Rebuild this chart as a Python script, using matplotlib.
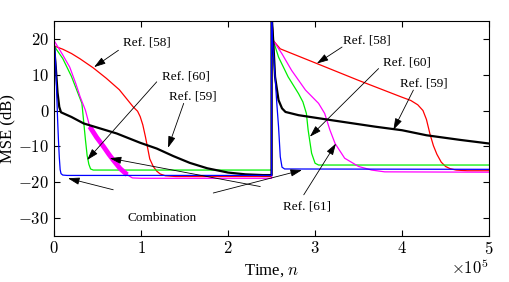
import numpy as np
import matplotlib
matplotlib.use('Agg')
import matplotlib.pyplot as plt
from matplotlib.ticker import FuncFormatter

plt.rcParams['font.family'] = ['Liberation Serif', 'DejaVu Serif']
plt.rcParams['mathtext.fontset'] = 'cm'

# time axis in units of 1e5 samples; two runs, reset at n = 2.5e5
ref58_n = [0, 0.1, 0.2, 0.3, 0.45, 0.6, 0.75, 0.91, 0.96, 0.99, 1.02, 1.05, 1.08, 1.1, 1.14, 1.18, 1.22, 1.28, 1.4, 2.5,
           2.5, 2.52, 2.6, 3.0, 3.5, 4.0, 4.1, 4.18, 4.24, 4.28, 4.32, 4.36, 4.4, 4.45, 4.5, 4.55, 4.62, 4.75, 5.0]
ref58_mse = [18, 17.1, 15.9, 14.4, 11.9, 9.0, 5.8, 1.0, -0.2, -1.7, -4.0, -7.3, -11.0, -13.5, -15.6, -16.9, -17.7, -18.2, -18.4, -18.4,
             27, 19.5, 17.2, 13.3, 8.4, 3.7, 2.8, 1.6, 0, -2.5, -6.5, -9.8, -12.2, -14.4, -15.6, -16.2, -16.6, -16.8, -16.8]

ref60_n = [0, 0.1, 0.2, 0.28, 0.32, 0.34, 0.36, 0.38, 0.4, 0.42, 0.45, 2.5,
           2.5, 2.52, 2.58, 2.69, 2.81, 2.86, 2.9, 2.92, 2.96, 3.0, 3.04, 5.0]
ref60_mse = [18, 14.5, 9.5, 4.5, 2.0, -3.0, -8.0, -12.5, -15.0, -16.3, -16.6, -16.6,
             27, 19.5, 14.9, 9.4, 4.7, 2.4, -0.8, -5.4, -11.9, -14.7, -15.2, -15.2]

ref61_n = [0, 0.05, 0.1, 0.18, 0.25, 0.3, 0.36, 0.41, 0.49, 0.57, 0.63, 0.68, 0.76, 0.84, 0.9, 1.0, 2.5,
           2.5, 2.52, 2.62, 2.73, 2.89, 3.04, 3.11, 3.17, 3.23, 3.34, 3.5, 3.65, 3.8, 5.0]
ref61_mse = [19.5, 17.5, 15.5, 12.1, 7.5, 3.8, 0.1, -4.5, -7.5, -10.1, -12.2, -13.8, -16.2, -17.9, -18.8, -18.9, -18.9,
             27, 19.5, 15.8, 11.2, 5.7, 2.0, -0.8, -5.4, -9.2, -13.3, -15.6, -16.6, -17.1, -17.2]

ref59_n = [0, 0.02, 0.04, 0.06, 0.08, 0.2, 0.34, 0.53, 0.72, 0.99, 1.18, 1.37, 1.56, 1.76, 2.0, 2.2, 2.4, 2.5,
           2.5, 2.52, 2.54, 2.58, 2.62, 2.66, 2.81, 3.19, 3.69, 4.0, 4.28, 4.67, 5.0]
ref59_mse = [18, 12, 5, 1, -0.5, -1.8, -3.6, -5.0, -6.4, -9.0, -10.6, -12.7, -14.6, -16.1, -17.3, -17.8, -18.0, -18.0,
             27, 19, 9.4, 2.9, 0.6, -0.4, -1.3, -2.7, -4.5, -5.5, -6.9, -8.2, -9.2]

comb_n = [0, 0.01, 0.02, 0.03, 0.04, 0.05, 0.06, 0.07, 0.08, 0.1, 0.15, 2.5,
          2.5, 2.51, 2.54, 2.56, 2.58, 2.6, 2.62, 2.65, 5.0]
comb_mse = [19, 17, 12, 5, -2, -8, -13, -16.5, -17.6, -18.0, -18.1, -18.1,
            27, 19.5, 9.4, 2.0, -4.5, -12.9, -15.8, -16.3, -16.4]

fig = plt.figure(figsize=(5.1, 2.82), dpi=100)
ax = fig.add_axes([0.106, 0.163, 0.853, 0.763])

ax.plot(ref58_n, ref58_mse, color='#ff0000', lw=0.9)
ax.plot(ref60_n, ref60_mse, color='#00ee00', lw=0.9)
ax.plot(ref61_n, ref61_mse, color='#ff00ff', lw=0.9)
# noisy transient of Ref. [61] in the first run shows as a thick band
n61 = np.array(ref61_n)
m61 = np.array(ref61_mse)
band = (n61 >= 0.41) & (n61 <= 0.84) & (np.arange(len(n61)) < 17)
ax.plot(n61[band], m61[band], color='#ff00ff', lw=3.5, solid_capstyle='butt')
ax.plot(ref59_n, ref59_mse, color='k', lw=1.6)
ax.plot(comb_n, comb_mse, color='#0000ff', lw=0.9)

ax.set_xlim(0, 5)
ax.set_ylim(-35, 25)
ax.set_xticks([0, 1, 2, 3, 4, 5])
ax.set_yticks([20, 10, 0, -10, -20, -30])
fmt = FuncFormatter(lambda v, p: r'$%d$' % v)
ax.xaxis.set_major_formatter(fmt)
ax.yaxis.set_major_formatter(fmt)
ax.tick_params(direction='in', top=True, right=True, length=4, width=0.8, labelsize=12)
ax.set_ylabel('MSE (dB)', fontsize=12, labelpad=2)
ax.set_xlabel(r'Time, $n$', fontsize=12, labelpad=3)
ax.text(1.0, -0.148, r'$\times10^5$', transform=ax.transAxes, ha='right', va='center', fontsize=12)

arr = dict(arrowstyle='-|>,head_length=0.7,head_width=0.22', color='k', lw=0.6,
           shrinkA=0, shrinkB=0, mutation_scale=10)
tsize = 9.5

def arrow(start, tip):
    ax.annotate('', xy=tip, xytext=start, arrowprops=arr)

ax.text(1.07, 19.1, 'Ref. [58]', ha='center', va='center', fontsize=tsize)
arrow((0.74, 16.8), (0.46, 12.1))
ax.text(3.59, 19.5, 'Ref. [58]', ha='center', va='center', fontsize=tsize)
arrow((3.31, 17.7), (3.02, 13.1))

ax.text(1.52, 9.6, 'Ref. [60]', ha='center', va='center', fontsize=tsize)
arrow((1.18, 8.0), (0.38, -13.8))
ax.text(4.06, 13.5, 'Ref. [60]', ha='center', va='center', fontsize=tsize)
arrow((3.73, 11.7), (2.94, -7.3))

ax.text(1.59, 3.8, 'Ref. [59]', ha='center', va='center', fontsize=tsize)
arrow((1.49, 2.0), (1.31, -10.4))
ax.text(4.25, 7.5, 'Ref. [59]', ha='center', va='center', fontsize=tsize)
arrow((4.13, 5.7), (3.9, -5.4))

ax.text(2.91, -26.7, 'Ref. [61]', ha='center', va='center', fontsize=tsize)
arrow((2.87, -23.5), (3.24, -9.2))
arrow((2.37, -21.2), (0.64, -13.3))

ax.text(1.24, -30, 'Combination', ha='center', va='center', fontsize=tsize)
arrow((0.68, -22.1), (0.16, -18.9))
arrow((1.83, -23.0), (2.85, -16.6))

fig.savefig('out.png', dpi=100)
